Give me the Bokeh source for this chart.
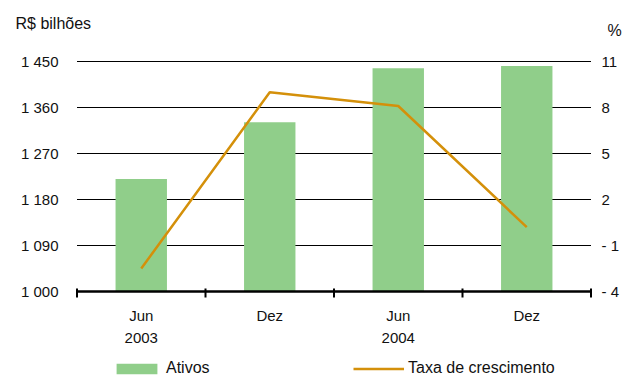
from bokeh.plotting import figure
from bokeh.models import (Range1d, Legend, LegendItem, Label, ColumnDataSource)
from bokeh.core.properties import value
from bokeh.embed import file_html
from bokeh.resources import INLINE

# ---- data ----
months = ["Jun", "Dez", "Jun", "Dez"]
years = ["2003", "", "2004", ""]
ativos = [1220, 1331, 1437, 1441]          # R$ bilhões
taxa = [-2.5, 9.0, 8.1, 0.2]               # %
left_ticks = [1000, 1090, 1180, 1270, 1360, 1450]
left_labels = ["1 000", "1 090", "1 180", "1 270", "1 360", "1 450"]
right_ticks = [-4, -1, 2, 5, 8, 11]
right_labels = ["- 4", "- 1", "2", "5", "8", "11"]

FONT = "Liberation Sans"
GREEN = "#90CE8A"
ORANGE = "#D4900A"
TXT = "#111111"

# ---- pixel layout of the plotting area inside the 624x376 canvas ----
W, H = 624, 376
PL, PR, PT, PB = 76.5, 590.5, 61.0, 291.0
n = len(months)
ymin, ymax = left_ticks[0], left_ticks[-1]
pmin, pmax = right_ticks[0], right_ticks[-1]
ux = (PR - PL) / n
uy = (PB - PT) / (ymax - ymin)
up = (PB - PT) / (pmax - pmin)

def X(px):
    return (px - PL) / ux

def Y(py):
    return ymin + (PB - py) / uy

p = figure(width=W, height=H, output_backend="svg", toolbar_location=None,
           x_axis_type=None, y_axis_type=None,
           x_range=Range1d(X(0), X(W)), y_range=Range1d(Y(H), Y(0)),
           min_border=0, min_border_left=0, min_border_right=0,
           min_border_top=0, min_border_bottom=0,
           outline_line_color=None)
p.extra_y_ranges = {"pct": Range1d(pmin - (H - PB) / up, pmax + PT / up)}

xpos = [i + 0.5 for i in range(n)]
src = ColumnDataSource(dict(x=xpos, ativos=ativos, taxa=taxa,
                            month=months, year=years))

# gridlines
p.segment(x0=0, x1=n, y0=left_ticks, y1=left_ticks, line_color="black",
          line_width=1)

bars = p.vbar(x="x", top="ativos", bottom=ymin, width=0.4, source=src,
              fill_color=GREEN, line_color=None)
line = p.line(x="x", y="taxa", source=src, y_range_name="pct",
              line_color=ORANGE, line_width=2.5)

# x axis line and boundary ticks
p.segment(x0=0, x1=n, y0=ymin, y1=ymin, line_color="black", line_width=2.5)
bounds = list(range(n + 1))
p.segment(x0=bounds, x1=bounds, y0=Y(288), y1=Y(297), line_color="black",
          line_width=2)

common = dict(text_font=value(FONT), text_font_size="15px", text_color=TXT)

# category labels
p.text(x="x", y=Y(315), text="month", source=src, text_align="center",
       text_baseline="middle", **common)
p.text(x="x", y=Y(337), text="year", source=src, text_align="center",
       text_baseline="middle", **common)

# left tick labels
p.text(x=[X(58)] * len(left_ticks), y=left_ticks, text=left_labels,
       text_align="right", text_baseline="middle", **common)
# right tick labels
p.text(x=[X(601)] * len(right_ticks), y=right_ticks, text=right_labels,
       y_range_name="pct", text_align="left", text_baseline="middle", **common)

# unit labels
p.add_layout(Label(x=X(15), y=Y(23), text="R$ bilhões", text_font=FONT,
                   text_font_size="16px", text_color=TXT,
                   text_baseline="middle"))
p.add_layout(Label(x=X(607), y=Y(30), text="%", text_font=FONT,
                   text_font_size="16px", text_color=TXT,
                   text_baseline="middle"))

# legends
for item, x0 in ((LegendItem(label="Ativos", renderers=[bars]), 111),
                 (LegendItem(label="Taxa de crescimento", renderers=[line]), 353)):
    lg = Legend(items=[item], location=(x0, -1), orientation="horizontal",
                border_line_color=None, background_fill_alpha=0,
                padding=0, margin=0, glyph_width=51, glyph_height=13,
                label_height=16, label_standoff=4, label_text_font=FONT,
                label_text_font_size="16px", label_text_color=TXT)
    p.add_layout(lg, "center")

open("out.html", "w").write(file_html(p, INLINE))
